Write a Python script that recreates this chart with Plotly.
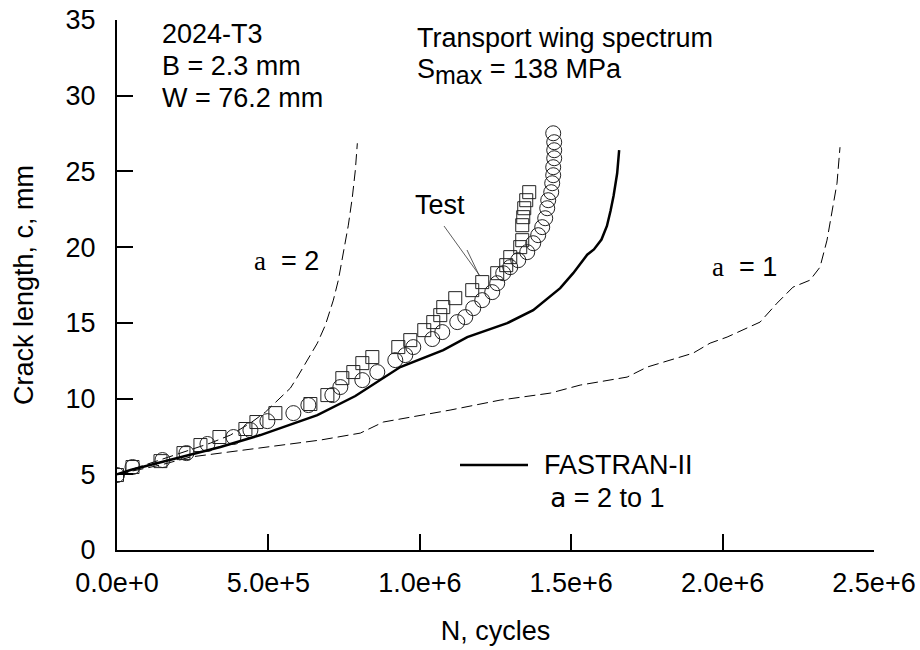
import plotly.graph_objects as go

# ---- data ----
a2_N = [0, 110560, 209570, 308580, 374590, 440600, 490100, 529700, 572600, 595700,
        622100, 661700, 688100, 714500, 731000, 747500, 764000, 777200, 787100, 793700]
a2_c = [5.0, 5.74, 6.40, 7.06, 7.59, 8.38, 9.11, 9.90, 10.69, 11.42,
        12.34, 13.66, 14.85, 16.50, 17.82, 19.60, 21.45, 23.30, 25.08, 26.86]

a1_N = [0, 143600, 242500, 463700, 671600, 803600, 879500, 1100000, 1265600, 1430700,
        1529700, 1684800, 1750800, 1902600, 1958700, 2014800, 2123700, 2179800, 2232600,
        2288700, 2321700, 2344800, 2354700, 2377800, 2387700]
a1_c = [5.0, 5.61, 6.14, 6.73, 7.26, 7.72, 8.45, 9.24, 9.90, 10.36,
        10.89, 11.42, 12.08, 13.00, 13.66, 14.06, 15.05, 16.30, 17.36,
        17.82, 18.68, 20.46, 21.58, 24.22, 26.60]

fas_N = [0, 44600, 199700, 341600, 473600, 549500, 661700, 787100, 935600, 1077500,
         1156700, 1288700, 1374500, 1463700, 1506600, 1552800, 1575000, 1600000,
         1618000, 1630000, 1640000, 1651800, 1658400]
fas_c = [5.0, 5.28, 6.07, 6.80, 7.59, 8.12, 8.91, 10.17, 12.08, 13.20,
         14.06, 14.98, 15.84, 17.29, 18.28, 19.50, 19.85, 20.50,
         21.40, 22.40, 23.40, 24.88, 26.40]

test1_N = [0, 51200, 150200, 229400, 298700, 384500, 440600, 496700, 582500, 632000,
           711200, 737600, 810200, 859700, 919100, 952100, 978500, 1041200, 1074200,
           1123700, 1150100, 1176500, 1206200, 1239200, 1255700, 1275500, 1298700,
           1325100, 1354800, 1374500, 1391000, 1404300, 1414200, 1420800, 1424100,
           1434000, 1437300, 1440600, 1440600, 1443900, 1443900, 1443900, 1440600]
test1_c = [4.95, 5.48, 5.94, 6.40, 7.00, 7.46, 7.92, 8.51, 9.04, 9.57,
           10.23, 10.76, 11.22, 11.75, 12.54, 12.87, 13.40, 13.93, 14.39,
           15.05, 15.38, 15.97, 16.50, 17.03, 17.62, 18.28, 18.68,
           19.14, 19.67, 20.26, 20.79, 21.32, 21.91, 22.57, 23.10,
           23.63, 24.22, 24.75, 25.28, 25.87, 26.40, 26.93, 27.52]

test2_N = [0, 51200, 143600, 219500, 275600, 338300, 424100, 460400, 523100, 638600,
           694700, 744200, 780500, 810200, 843200, 929000, 968600, 1014800, 1044500,
           1067600, 1077500, 1117100, 1173200, 1206200, 1255700, 1285400, 1298700,
           1331700, 1338300, 1338300, 1341600, 1344900, 1351500, 1361400]
test2_c = [4.95, 5.48, 5.87, 6.40, 6.93, 7.46, 7.99, 8.45, 9.04, 9.64,
           10.23, 11.35, 11.75, 12.34, 12.74, 13.40, 13.86, 14.52, 15.05,
           15.51, 16.04, 16.63, 17.16, 17.69, 18.28, 18.81, 19.34,
           20.00, 20.46, 21.45, 21.98, 22.57, 23.10, 23.63]

x_ticks = [0, 500000, 1000000, 1500000, 2000000, 2500000]
y_ticks = [0, 5, 10, 15, 20, 25, 30, 35]

FONT = "Liberation Sans, Arial, Helvetica, sans-serif"
FS = 27

fig = go.Figure()
fig.add_trace(go.Scatter(x=a2_N, y=a2_c, mode="lines",
                         line=dict(color="black", width=1, dash="11px,5px"), showlegend=False))
fig.add_trace(go.Scatter(x=a1_N, y=a1_c, mode="lines",
                         line=dict(color="black", width=1, dash="11px,5px"), showlegend=False))
fig.add_trace(go.Scatter(x=test1_N, y=test1_c, mode="markers",
                         marker=dict(symbol="circle-open", size=15, color="#222",
                                     line=dict(width=1, color="#222")), showlegend=False))
fig.add_trace(go.Scatter(x=test2_N, y=test2_c, mode="markers",
                         marker=dict(symbol="square-open", size=13, color="#222",
                                     line=dict(width=1, color="#222")), showlegend=False))
fig.add_trace(go.Scatter(x=fas_N, y=fas_c, mode="lines",
                         line=dict(color="black", width=2.5), showlegend=False))

L, R, T, B = 117, 874, 20, 550
W, H = 920, 650


def px(x):
    return (x - L) / (R - L)


def py(y):
    return (B - y) / (B - T)


ann = []


def text(x, y, s, anchor="left", size=FS):
    ann.append(dict(x=px(x), y=py(y), xref="paper", yref="paper", text=s, showarrow=False,
                    xanchor=anchor, yanchor="middle", font=dict(family=FONT, size=size, color="black")))


SERIF_A = "<span style='font-family:Liberation Serif, Times New Roman, serif'>a</span>"
MONO_A = "<span style='font-family:DejaVu Sans Mono, monospace'>a</span>"

text(160, 34, "2024-T3")
text(160, 66, "B = 2.3 mm")
text(160, 98, "W = 76.2 mm")
text(415, 38, "Transport wing spectrum")
text(415, 72, "S<sub><span style='font-size:25px'>max</span></sub> = 138 MPa")
text(252, 261, SERIF_A + "  = 2")
text(710, 267, SERIF_A + "  = 1")
text(542, 465, "FASTRAN-II")
text(548, 497, MONO_A + " = 2 to 1")
text(440, 205, "Test", anchor="center")

shapes = [
    # legend sample line
    dict(type="line", xref="paper", yref="paper", x0=px(460), x1=px(528),
         y0=py(465), y1=py(465), line=dict(color="black", width=2.5)),
    # "Test" pointer lines
    dict(type="line", xref="paper", yref="paper", x0=px(444), y0=py(226),
         x1=px(480), y1=py(276), line=dict(color="#333", width=0.8)),
    dict(type="line", xref="paper", yref="paper", x0=px(467), y0=py(250),
         x1=px(479), y1=py(275), line=dict(color="#333", width=0.8)),
]

fig.update_layout(
    width=W, height=H,
    margin=dict(l=L, r=W - R, t=T, b=H - B, autoexpand=False),
    paper_bgcolor="white", plot_bgcolor="white",
    font=dict(family=FONT, size=FS, color="black"),
    annotations=ann,
    shapes=shapes,
    xaxis=dict(range=[0, 2500000], tickvals=x_ticks, tickformat=".1e",
               ticks="inside", ticklen=16, tickwidth=2, tickcolor="black",
               showline=True, linewidth=2, linecolor="black", showgrid=False, zeroline=False,
               automargin=False,
               title=dict(text="N, cycles", standoff=24, font=dict(size=FS)),
               tickfont=dict(size=FS), ticklabelstandoff=8),
    yaxis=dict(range=[0, 35], tickvals=y_ticks,
               ticks="inside", ticklen=16, tickwidth=2, tickcolor="black",
               showline=True, linewidth=2, linecolor="black", showgrid=False, zeroline=False,
               automargin=False,
               title=dict(text="Crack length, c, mm", standoff=24, font=dict(size=FS)),
               tickfont=dict(size=FS), ticklabelstandoff=14),
)

fig.write_html("out.html")
